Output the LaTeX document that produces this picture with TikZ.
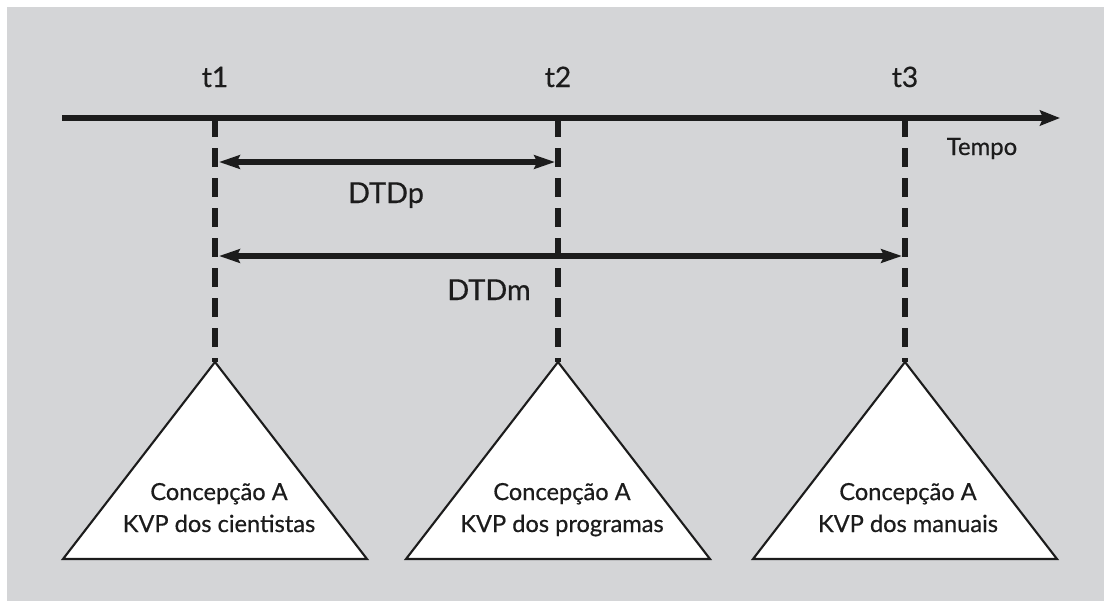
\documentclass[tikz,border=0pt]{standalone}
\usepackage{fontspec}
\setmainfont{Lato}
\newfontfamily\labelfont{Lato}[FakeBold=0.5]
\usetikzlibrary{arrows.meta}
\definecolor{panelgray}{RGB}{212,213,215}
\definecolor{inkgray}{RGB}{28,28,28}

\begin{document}
\begin{tikzpicture}[x=0.025cm,y=-0.025cm,
    timeline/.style={line width=4.5pt, inkgray, -{Stealth[length=0.5cm,width=0.38cm,inset=0.08cm]}},
    tickline/.style={line width=4.6pt, inkgray, dash pattern=on 0.475cm off 0.275cm},
    span/.style={line width=4pt, inkgray, {Stealth[length=0.52cm,width=0.34cm,inset=0.08cm]}-{Stealth[length=0.52cm,width=0.34cm,inset=0.08cm]}},
    concept/.style={draw=inkgray, line width=1.5pt, fill=white, line join=miter},
    tlabel/.style={anchor=base, inner sep=0pt, text=inkgray, font=\labelfont\fontsize{20}{24}\selectfont},
    dlabel/.style={anchor=base, inner sep=0pt, text=inkgray, font=\labelfont\fontsize{20.5}{24}\selectfont},
    clabel/.style={anchor=base, inner sep=0pt, text=inkgray, align=center, font=\labelfont\fontsize{16.8}{22.7}\selectfont}]
  \useasboundingbox (0,0) rectangle (1104,601);
  \fill[white] (0,0) rectangle (1104,601);
  \fill[panelgray] (7,7) rectangle (1104,601);

  %%time axis
  \coordinate (axstart) at (62,118);
  \coordinate (axend) at (1060,118);
  \coordinate (tk1) at (215,118);
  \coordinate (tk2) at (558,118);
  \coordinate (tk3) at (905,118);
  %%apexes
  \coordinate (ap1) at (215,362);
  \coordinate (ap2) at (558,362);
  \coordinate (ap3) at (905,362);

  %%dashed ticks
  \draw[tickline] (tk1) -- (ap1);
  \draw[tickline] (tk2) -- (ap2);
  \draw[tickline] (tk3) -- (ap3);

  %%conceptions
  \draw[concept] (ap1) -- ++(152,197) -- ++(-304,0) -- cycle;
  \draw[concept] (ap2) -- ++(152,197) -- ++(-304,0) -- cycle;
  \draw[concept] (ap3) -- ++(152,197) -- ++(-304,0) -- cycle;
  \node[clabel] (cA) at (219,532) {Concepção A\\KVP dos cientistas};
  \node[clabel] (cB) at (562,532) {Concepção A\\KVP dos programas};
  \node[clabel] (cC) at (908,532) {Concepção A\\KVP dos manuais};

  \draw[timeline] (axstart) -- (axend);
  \node[tlabel] (lt1) at (215,87) {t1};
  \node[tlabel] (lt2) at (558,87) {t2};
  \node[tlabel] (lt3) at (905,87) {t3};
  \node[anchor=base, inner sep=0pt, text=inkgray, font=\labelfont\fontsize{17}{20}\selectfont] (tempo) at (982,155) {Tempo};

  %%DTDp, DTDm
  \coordinate (p1) at (219,162);
  \coordinate (p2) at (555,162);
  \coordinate (m1) at (219,256);
  \coordinate (m3) at (902,256);
  \draw[span] (p1) -- (p2);
  \draw[span] (m1) -- (m3);
  \node[dlabel] (dtdp) at (386,203) {DTDp};
  \node[dlabel] (dtdm) at (489,300) {DTDm};
\end{tikzpicture}
\end{document}
